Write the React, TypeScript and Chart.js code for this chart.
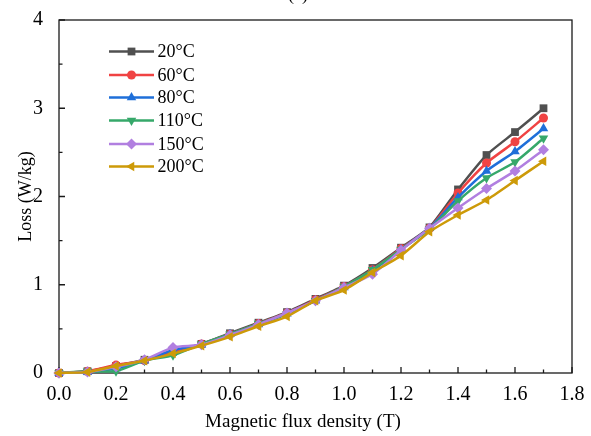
import React, { useEffect, useRef } from "react";
import { Chart, registerables } from "chart.js";

Chart.register(...registerables);

const fluxDensity = [0, 0.1, 0.2, 0.3, 0.4, 0.5, 0.6, 0.7, 0.8, 0.9, 1.0, 1.1, 1.2, 1.3, 1.4, 1.5, 1.6, 1.7];
const loss20 = [0, 0.02, 0.08, 0.15, 0.24, 0.33, 0.45, 0.57, 0.69, 0.84, 0.99, 1.19, 1.42, 1.65, 2.08, 2.47, 2.73, 3.0];
const loss60 = [0, 0.02, 0.09, 0.14, 0.24, 0.33, 0.44, 0.56, 0.68, 0.83, 0.98, 1.17, 1.41, 1.64, 2.04, 2.38, 2.62, 2.89];
const loss80 = [0, 0.01, 0.05, 0.14, 0.26, 0.32, 0.44, 0.55, 0.67, 0.82, 0.97, 1.16, 1.4, 1.64, 1.99, 2.29, 2.51, 2.77];
const loss110 = [0, 0.02, 0.02, 0.14, 0.2, 0.33, 0.44, 0.56, 0.67, 0.82, 0.98, 1.17, 1.4, 1.63, 1.95, 2.21, 2.39, 2.66];
const loss150 = [0, 0.01, 0.07, 0.15, 0.29, 0.32, 0.43, 0.55, 0.68, 0.82, 0.97, 1.12, 1.39, 1.64, 1.87, 2.09, 2.29, 2.53];
const loss200 = [0, 0.01, 0.08, 0.14, 0.22, 0.31, 0.41, 0.53, 0.64, 0.82, 0.94, 1.14, 1.33, 1.6, 1.79, 1.96, 2.18, 2.4];

const seriesLabels = ["20°C", "60°C", "80°C", "110°C", "150°C", "200°C"];
const seriesValues = [loss20, loss60, loss80, loss110, loss150, loss200];
const seriesColors = ["#505050", "#F04343", "#1F6FD9", "#36A86A", "#B17FE0", "#CD9A08"];
const seriesMarkers = ["rect", "circle", "triangle", "triangleDown", "rectRot", "triangleLeft"];

const xTitle = "Magnetic flux density (T)";
const yTitle = "Loss (W/kg)";
const panelTitle = "(a)";
const FONT = "'Liberation Serif', 'Times New Roman', serif";

function pointStyleOf(m: string) {
  if (m === "triangleDown" || m === "triangleLeft") return "triangle";
  return m;
}
function rotationOf(m: string) {
  if (m === "triangleDown") return 180;
  if (m === "triangleLeft") return -90;
  return 0;
}
function radiusOf(m: string) {
  if (m === "circle") return 4.5;
  return 5.5;
}

function drawMarker(ctx: CanvasRenderingContext2D, m: string, x: number, y: number, r: number) {
  ctx.beginPath();
  if (m === "rect") {
    const s = Math.SQRT1_2 * r;
    ctx.rect(x - s, y - s, 2 * s, 2 * s);
  } else if (m === "circle") {
    ctx.arc(x, y, r, 0, Math.PI * 2);
  } else if (m === "rectRot") {
    ctx.moveTo(x, y - r);
    ctx.lineTo(x + r, y);
    ctx.lineTo(x, y + r);
    ctx.lineTo(x - r, y);
    ctx.closePath();
  } else {
    const rot = (rotationOf(m) * Math.PI) / 180;
    const pts = [0, 1, 2].map((k) => {
      const a = -Math.PI / 2 + rot + (k * 2 * Math.PI) / 3;
      return [x + r * Math.cos(a), y + r * Math.sin(a)];
    });
    ctx.moveTo(pts[0][0], pts[0][1]);
    ctx.lineTo(pts[1][0], pts[1][1]);
    ctx.lineTo(pts[2][0], pts[2][1]);
    ctx.closePath();
  }
  ctx.fill();
}

const framePlugin = {
  id: "originFrame",
  beforeDatasetsDraw(chart: any) {
    const { ctx, chartArea: a, scales } = chart;
    ctx.save();
    ctx.strokeStyle = "#1a1a1a";
    ctx.lineWidth = 1.3;
    ctx.strokeRect(a.left, a.top, a.right - a.left, a.bottom - a.top);
    ctx.beginPath();
    for (let i = 0; i <= 18; i++) {
      const px = scales.x.getPixelForValue(i / 10);
      const len = i % 2 === 0 ? 6 : 3.5;
      ctx.moveTo(px, a.bottom);
      ctx.lineTo(px, a.bottom - len);
    }
    for (let i = 0; i <= 8; i++) {
      const py = scales.y.getPixelForValue(i / 2);
      const len = i % 2 === 0 ? 6 : 3.5;
      ctx.moveTo(a.left, py);
      ctx.lineTo(a.left + len, py);
    }
    ctx.stroke();
    ctx.restore();
  },
  afterDraw(chart: any) {
    const { ctx, chartArea: a } = chart;
    ctx.save();
    ctx.fillStyle = "#000";
    ctx.font = `18px ${FONT}`;
    ctx.textAlign = "center";
    ctx.textBaseline = "alphabetic";
    ctx.fillText(panelTitle, 298, 0);
    ctx.font = `19px ${FONT}`;
    ctx.textBaseline = "middle";
    ctx.fillText(xTitle, 303, 422);
    ctx.save();
    ctx.translate(26, (a.top + a.bottom) / 2);
    ctx.rotate(-Math.PI / 2);
    ctx.font = `18px ${FONT}`;
    ctx.fillText(yTitle, 0, 0);
    ctx.restore();
    const rows = [51.5, 75, 97.5, 120.5, 144, 166.5];
    seriesLabels.forEach((lab, i) => {
      const y = rows[i];
      ctx.strokeStyle = seriesColors[i];
      ctx.fillStyle = seriesColors[i];
      ctx.lineWidth = 2.5;
      ctx.beginPath();
      ctx.moveTo(109, y);
      ctx.lineTo(154, y);
      ctx.stroke();
      drawMarker(ctx, seriesMarkers[i], 131.5, y, radiusOf(seriesMarkers[i]));
      ctx.fillStyle = "#000";
      ctx.font = `18px ${FONT}`;
      ctx.textAlign = "left";
      ctx.textBaseline = "middle";
      ctx.fillText(lab, 157.5, y + 1);
    });
    ctx.restore();
  },
};

export default function App() {
  const ref = useRef<HTMLCanvasElement | null>(null);
  useEffect(() => {
    if (!ref.current) return;
    const datasets = seriesValues.map((vals, i) => ({
      label: seriesLabels[i],
      data: fluxDensity.map((x, k) => ({ x, y: vals[k] })),
      borderColor: seriesColors[i],
      backgroundColor: seriesColors[i],
      borderWidth: 2.5,
      pointStyle: pointStyleOf(seriesMarkers[i]) as any,
      rotation: rotationOf(seriesMarkers[i]),
      pointRadius: radiusOf(seriesMarkers[i]),
      pointBorderWidth: 0,
      tension: 0.2,
      clip: false as any,
      order: seriesValues.length - i,
    }));
    const chart = new Chart(ref.current, {
      type: "line",
      data: { datasets },
      plugins: [framePlugin],
      options: {
        animation: false,
        responsive: false,
        events: [],
        layout: { padding: { left: 0, right: 19, top: 18, bottom: 0 } },
        plugins: { legend: { display: false }, tooltip: { enabled: false }, title: { display: false } },
        scales: {
          x: {
            type: "linear",
            min: 0,
            max: 1.8,
            grid: { display: false },
            border: { display: false },
            ticks: {
              stepSize: 0.2,
              padding: 2,
              color: "#000",
              font: { family: FONT, size: 20 },
              callback: (v: any) => Number(v).toFixed(1),
              maxRotation: 0,
              autoSkip: false,
            },
            afterFit: (s: any) => {
              s.height = 63;
            },
          },
          y: {
            type: "linear",
            min: 0,
            max: 4,
            grid: { display: false },
            border: { display: false },
            ticks: {
              stepSize: 1,
              padding: 8,
              color: "#000",
              font: { family: FONT, size: 20 },
              callback: (v: any) => String(v),
            },
            afterFit: (s: any) => {
              s.width = 59;
            },
          },
        },
      },
    });
    return () => chart.destroy();
  }, []);
  return (
    <div style={{ position: "fixed", left: 0, top: 0, width: 591, height: 436, background: "#fff" }}>
      <canvas ref={ref} width={591} height={436} style={{ display: "block" }} />
    </div>
  );
}
